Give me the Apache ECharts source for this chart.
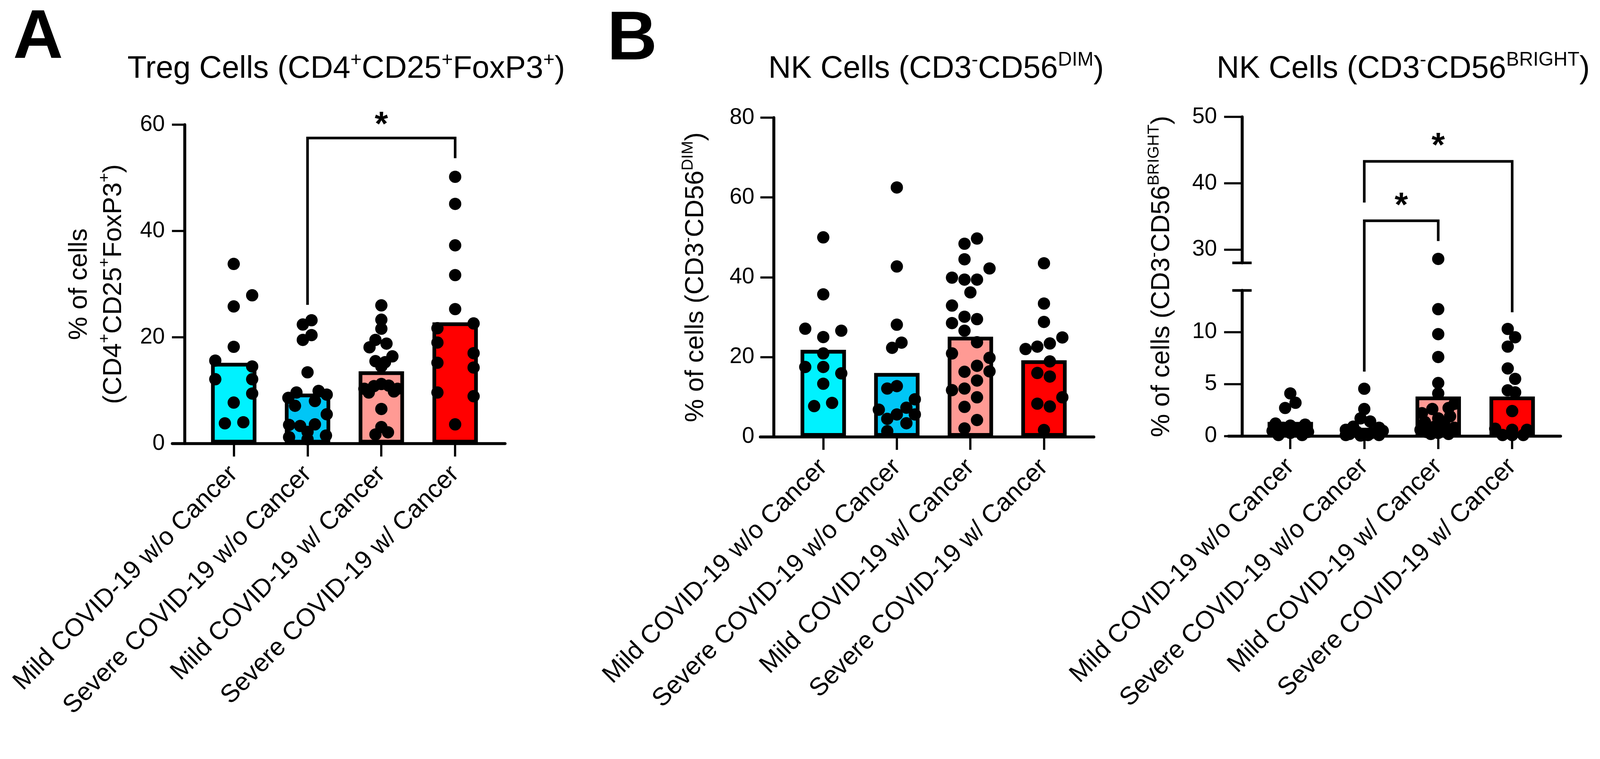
<!DOCTYPE html>
<html>
<head>
<meta charset="utf-8">
<script src="https://cdn.jsdelivr.net/npm/echarts@6/dist/echarts.min.js"></script>
<style>
  html, body { margin: 0; padding: 0; background: #fff; overflow: hidden; }
  #chart { width: 100vw; height: 100vh; }
</style>
</head>
<body>
<div id="chart"></div>
<script>
const GROUPS = [
  "Mild COVID-19 w/o Cancer",
  "Severe COVID-19 w/o Cancer",
  "Mild COVID-19 w/ Cancer",
  "Severe COVID-19 w/ Cancer"
];
const GROUP_COLORS = ["#00f2ff", "#00c6f6", "#ff9a94", "#ff0000"];

// bar heights (group means)
const TREG_MEANS = [15.2, 9.4, 13.6, 22.8];
const NK_DIM_MEANS = [21.8, 16.0, 25.1, 19.2];
const NK_BRIGHT_MEANS = [1.36, 0.8, 3.8, 3.8];

// individual samples: [horizontal jitter in category units, value]
const TREG_POINTS = [
  [[0, 33.8], [0.25, 27.9], [0, 25.8], [0, 18.2], [-0.25, 15.6], [0.25, 14.5], [-0.25, 12.1],
   [0.25, 12.1], [0.25, 9.4], [0, 7.7], [-0.12, 3.8], [0.13, 4.0]],
  [[0.054, 23.2], [-0.064, 22.4], [0.054, 20.4], [-0.064, 19.5], [0, 13.4], [-0.15, 9.6], [0.15, 9.9],
   [0.26, 9.2], [-0.26, 8.6], [-0.17, 7.1], [0.1, 8.0], [0.26, 5.5], [-0.25, 3.5], [-0.1, 3.3],
   [0, 2.2], [0.1, 3.6], [0.25, 1.5], [-0.25, 1.2], [0, 0.8]],
  [[0, 26.0], [0, 23.3], [0, 21.6], [-0.08, 19.5], [0.07, 18.8], [-0.16, 18.1], [0.15, 16.4],
   [-0.08, 15.5], [0.05, 15.3], [0, 14.5], [-0.23, 10.3], [-0.1, 10.8], [0, 11.2], [0.1, 10.9],
   [0.22, 10.3], [-0.17, 9.6], [0.17, 9.8], [0, 6.5], [0, 3.1], [-0.08, 1.7], [0.09, 2.1]],
  [[0, 50.2], [0, 45.1], [0, 37.3], [0, 31.7], [0, 25.3], [0.25, 22.6], [-0.24, 21.7], [-0.24, 19.0],
   [0.25, 17.0], [-0.24, 15.2], [0.25, 14.3], [-0.24, 9.6], [0.25, 8.9], [0, 3.6]]
];

const NK_DIM_POINTS = [
  [[0, 50.0], [0, 35.7], [-0.245, 27.1], [0.245, 26.6], [0, 25.0], [0, 20.9], [-0.245, 17.5],
   [0, 17.5], [0.245, 15.9], [0, 13.3], [-0.124, 7.7], [0.12, 8.5]],
  [[0, 62.5], [0, 42.7], [0, 28.1], [0.064, 23.6], [-0.064, 22.3], [0, 12.7], [-0.13, 12.1],
   [0.245, 9.4], [0.13, 7.3], [-0.245, 6.8], [0, 5.6], [-0.13, 4.5], [0.245, 5.6], [0.13, 3.4],
   [-0.13, 1.4]],
  [[0.09, 49.7], [-0.08, 48.4], [-0.08, 44.5], [0.26, 42.2], [-0.25, 39.9], [-0.08, 39.4], [0.09, 39.4],
   [0, 36.2], [-0.25, 32.9], [-0.08, 30.1], [0.09, 29.5], [-0.25, 28.5], [-0.08, 26.6], [0.09, 23.7],
   [-0.25, 20.9], [0.26, 19.8], [0.09, 17.8], [-0.08, 16.3], [0.26, 16.4], [0.09, 14.1], [-0.25, 11.7],
   [-0.08, 12.1], [0.09, 9.9], [-0.08, 7.5], [0.09, 4.2], [-0.08, 2.1]],
  [[0, 43.5], [0, 33.4], [0, 28.8], [0.25, 24.9], [0.08, 23.4], [-0.09, 22.6], [-0.25, 22.0],
   [0.08, 18.9], [-0.09, 16.0], [0.08, 15.1], [0.25, 9.9], [-0.09, 8.3], [0.08, 7.6], [0, 1.7]]
];

const NK_BRIGHT_POINTS = [
  [[0, 4.1], [0.07, 3.2], [-0.07, 2.7], [-0.2, 1.2], [0.2, 1.1], [0, 1.0], [-0.1, 0.8], [0.12, 0.7],
   [-0.24, 0.5], [0.24, 0.4], [0, 0.3], [-0.16, 0.1], [0.16, 0.1]],
  [[0, 4.55], [0, 2.6], [-0.05, 1.7], [0.08, 1.4], [-0.15, 0.9], [0.2, 0.8], [-0.25, 0.6], [0.25, 0.5],
   [-0.1, 0.4], [0.1, 0.3], [-0.2, 0.2], [0, 0.15], [0.2, 0.1], [-0.25, 0.1], [0.05, 0.1], [-0.05, 0.05]],
  [[0, 28.6], [0, 12.2], [0, 9.8], [0, 7.6], [0, 5.1], [0, 4.1], [-0.08, 2.6], [0.14, 2.7], [0.22, 3.1],
   [-0.18, 1.35], [0, 1.7], [0.16, 1.9], [-0.22, 2.2], [0.08, 1.2], [-0.05, 0.9], [0.22, 0.8],
   [-0.16, 0.4], [0, 0.3], [0.14, 0.2], [-0.24, 0.6], [0.05, 0.5], [-0.1, 0.2]],
  [[-0.06, 10.3], [0.04, 9.5], [-0.06, 8.6], [-0.06, 6.5], [0.04, 5.5], [-0.06, 4.4], [0.04, 4.2],
   [0, 2.4], [-0.23, 0.7], [0, 0.6], [0.2, 0.6], [-0.13, 0.1], [0.15, 0.1], [0, 0.1]]
];

const TREG_TICKS = [0, 20, 40, 60];
const NK_DIM_TICKS = [0, 20, 40, 60, 80];
const NK_BRIGHT_LOW_TICKS = [0, 5, 10];
const NK_BRIGHT_HIGH_TICKS = [30, 40, 50];
const CATEGORY_TICKS = [0, 1, 2, 3];

// significance brackets: categories joined, bar height, leg ends, star height
const TREG_BRACKETS = [
  { from: 1, to: 3, top: 57.5, fromEnd: 26.1, toEnd: 53.7, star: 61.2 }
];
const NK_BRIGHT_BRACKETS = [
  { from: 1, to: 3, top: 43.3, fromEnd: 37.1, toEnd: 11.9, star: 46.6 },
  { from: 1, to: 2, top: 34.35, fromEnd: 6.2, toEnd: 31.3, star: 37.6 }
];

const FONT = "'Liberation Sans', Arial, Helvetica, sans-serif";

// layout is measured on a 4299 x 1942 canvas and scaled to the real one
const chartEl = document.getElementById("chart");
const chart = echarts.init(chartEl, null, { renderer: "canvas" });
const S = Math.min(chart.getWidth() / 4299, chart.getHeight() / 1942);
const px = (v) => v * S;

const AXIS_LINE = { color: "#000", width: px(8) };
const TICK_LINE = { color: "#000", width: px(6) };

const PANEL_TREG = { left: 463, right: 1357, top: 335, bottom: 1191, axisX: 496, xMin: -0.832, xMax: 3.676, tick: 34, labelGap: 53 };
const PANEL_DIM = { left: 2043, right: 2939, top: 316, bottom: 1173, axisX: 2079, xMin: -0.855, xMax: 3.678, tick: 36, labelGap: 52 };
const PANEL_BRIGHT_HIGH = { left: 3301, right: 4193, top: 314, bottom: 706, axisX: 3337, xMin: -0.835, xMax: 3.654, tick: 48, labelGap: 67 };
const PANEL_BRIGHT_LOW = { left: 3301, right: 4193, top: 780, bottom: 1171, axisX: 3337, xMin: -0.835, xMax: 3.654, tick: 48, labelGap: 67 };

function rich(parts) {
  return parts.map((part, i) => (i % 2 === 0 ? `{n|${part}}` : `{sup|${part}}`)).join("");
}

function richStyles(size, lineHeight) {
  return {
    n: { fontSize: px(size), fontFamily: FONT, fontWeight: "normal", color: "#000", lineHeight: px(lineHeight) },
    sup: {
      fontSize: px(size * 0.62), fontFamily: FONT, fontWeight: "normal", color: "#000",
      lineHeight: px(size * 0.45), verticalAlign: "top"
    }
  };
}

function gridFor(p) {
  return {
    left: px(p.left), top: px(p.top), width: px(p.right - p.left), height: px(p.bottom - p.top),
    containLabel: false, outerBoundsMode: "none"
  };
}

function xAxisFor(index, p, visible) {
  return {
    type: "value",
    gridIndex: index,
    min: p.xMin,
    max: p.xMax,
    axisLine: { show: visible, onZero: false, lineStyle: AXIS_LINE },
    axisTick: { show: visible, length: px(35), customValues: CATEGORY_TICKS, lineStyle: TICK_LINE },
    axisLabel: {
      show: visible,
      customValues: CATEGORY_TICKS,
      rotate: 45,
      margin: px(72),
      fontSize: px(68),
      fontFamily: FONT,
      color: "#000",
      formatter: (value) => GROUPS[Math.round(value)]
    },
    splitLine: { show: false }
  };
}

function yAxisFor(index, p, min, max, ticks, extra) {
  return Object.assign({
    type: "value",
    gridIndex: index,
    min: min,
    max: max,
    offset: px(p.left - p.axisX),
    axisLine: { show: true, onZero: false, lineStyle: AXIS_LINE },
    axisTick: { show: true, length: px(p.tick), customValues: ticks, lineStyle: TICK_LINE },
    axisLabel: { customValues: ticks, margin: px(p.labelGap), fontSize: px(60), fontFamily: FONT, color: "#000" },
    splitLine: { show: false }
  }, extra || {});
}

function barSeries(index, means) {
  return {
    type: "bar",
    xAxisIndex: index,
    yAxisIndex: index,
    barWidth: px(122),
    z: 2,
    itemStyle: { borderColor: "#000", borderWidth: px(10), opacity: 1 },
    emphasis: { disabled: true },
    data: means.map((mean, i) => ({ value: [i, mean], itemStyle: { color: GROUP_COLORS[i] } }))
  };
}

function dotSeries(index, points) {
  return {
    type: "scatter",
    xAxisIndex: index,
    yAxisIndex: index,
    symbolSize: px(33),
    z: 3,
    itemStyle: { color: "#000", opacity: 1 },
    emphasis: { disabled: true },
    data: points.flatMap((group, i) => group.map(([dx, value]) => [i + dx, value]))
  };
}

const letterStyle = { fontSize: px(186), fontWeight: "bold", fontFamily: FONT, color: "#000" };

chart.setOption({
  animation: false,
  backgroundColor: "#fff",
  title: [
    { text: "A", left: px(30), top: px(6), textStyle: letterStyle },
    { text: "B", left: px(1626), top: px(10), textStyle: letterStyle },
    { text: rich(["Treg Cells (CD4", "+", "CD25", "+", "FoxP3", "+", ")"]), left: px(925), top: px(130), textAlign: "center",
      textStyle: { fontWeight: "normal", rich: richStyles(84, 100) } },
    { text: rich(["NK Cells (CD3", "-", "CD56", "DIM", ")"]), left: px(2510), top: px(130), textAlign: "center",
      textStyle: { fontWeight: "normal", rich: richStyles(84, 100) } },
    { text: rich(["NK Cells (CD3", "-", "CD56", "BRIGHT", ")"]), left: px(3765), top: px(130), textAlign: "center",
      textStyle: { fontWeight: "normal", rich: richStyles(84, 100) } }
  ],
  grid: [gridFor(PANEL_TREG), gridFor(PANEL_DIM), gridFor(PANEL_BRIGHT_HIGH), gridFor(PANEL_BRIGHT_LOW)],
  xAxis: [
    xAxisFor(0, PANEL_TREG, true),
    xAxisFor(1, PANEL_DIM, true),
    xAxisFor(2, PANEL_BRIGHT_HIGH, false),
    xAxisFor(3, PANEL_BRIGHT_LOW, true)
  ],
  yAxis: [
    yAxisFor(0, PANEL_TREG, 0, 60, TREG_TICKS, {
      name: "{n|% of cells}\n" + rich(["(CD4", "+", "CD25", "+", "FoxP3", "+", ")"]),
      nameLocation: "middle",
      nameRotate: 90,
      nameGap: px(143),
      nameTextStyle: { rich: richStyles(70, 93) }
    }),
    yAxisFor(1, PANEL_DIM, 0, 80, NK_DIM_TICKS, {
      name: rich(["% of cells (CD3", "-", "CD56", "DIM", ")"]),
      nameLocation: "middle",
      nameRotate: 90,
      nameGap: px(166),
      nameTextStyle: { rich: richStyles(70, 86) }
    }),
    yAxisFor(2, PANEL_BRIGHT_HIGH, 28, 50, NK_BRIGHT_HIGH_TICKS),
    yAxisFor(3, PANEL_BRIGHT_LOW, 0, 14, NK_BRIGHT_LOW_TICKS)
  ],
  series: [
    barSeries(0, TREG_MEANS),
    dotSeries(0, TREG_POINTS),
    barSeries(1, NK_DIM_MEANS),
    dotSeries(1, NK_DIM_POINTS),
    dotSeries(2, NK_BRIGHT_POINTS),
    barSeries(3, NK_BRIGHT_MEANS),
    dotSeries(3, NK_BRIGHT_POINTS)
  ]
});

// annotations drawn through the grids' own scales
function bracketGraphics(brackets, gridOf) {
  const items = [];
  brackets.forEach((b) => {
    const points = [[b.from, b.fromEnd], [b.from, b.top], [b.to, b.top], [b.to, b.toEnd]]
      .map(([x, y]) => chart.convertToPixel({ gridIndex: gridOf(y) }, [x, y]));
    items.push({
      type: "polyline",
      shape: { points: points },
      style: { stroke: "#000", lineWidth: px(7), fill: "none", lineJoin: "miter" },
      z: 10
    });
    const star = chart.convertToPixel({ gridIndex: gridOf(b.star) }, [(b.from + b.to) / 2, b.star]);
    items.push({
      type: "text",
      x: star[0],
      y: star[1] + px(20),
      style: {
        text: "*", fontSize: px(92), fontWeight: "bold", fontFamily: FONT, fill: "#000",
        align: "center", verticalAlign: "middle"
      },
      z: 10
    });
  });
  return items;
}

function breakMark(gridIndex, value, axisX) {
  const y = chart.convertToPixel({ gridIndex: gridIndex }, [0, value])[1];
  return {
    type: "line",
    shape: { x1: px(axisX - 26), y1: y, x2: px(axisX + 26), y2: y },
    style: { stroke: "#000", lineWidth: px(7) },
    z: 10
  };
}

const brightGrid = (value) => (value >= 21 ? 2 : 3);
const brightMid = (chart.convertToPixel({ gridIndex: 2 }, [0, 50])[1] + chart.convertToPixel({ gridIndex: 3 }, [0, 0])[1]) / 2;

chart.setOption({
  graphic: [
    ...bracketGraphics(TREG_BRACKETS, () => 0),
    ...bracketGraphics(NK_BRIGHT_BRACKETS, brightGrid),
    breakMark(2, 28, PANEL_BRIGHT_HIGH.axisX),
    breakMark(3, 14, PANEL_BRIGHT_LOW.axisX),
    {
      type: "text",
      x: px(PANEL_BRIGHT_LOW.axisX - 172),
      y: brightMid,
      rotation: Math.PI / 2,
      style: {
        text: rich(["% of cells (CD3", "-", "CD56", "BRIGHT", ")"]),
        rich: richStyles(70, 86),
        align: "center",
        verticalAlign: "bottom"
      },
      z: 10
    }
  ]
});
</script>
</body>
</html>
